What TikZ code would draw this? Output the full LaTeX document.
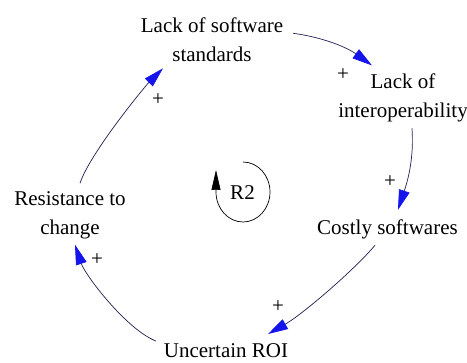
\documentclass[tikz,border=0pt]{standalone}
\usepackage{fontspec}
\setmainfont{Liberation Serif}
\usetikzlibrary{arrows.meta}
\definecolor{linec}{RGB}{30,30,80}
\definecolor{headc}{RGB}{20,20,235}
\begin{document}
\begin{tikzpicture}[x=1pt,y=-1pt,
  lbl/.style={font=\fontsize{21}{29}\selectfont, align=center, inner sep=2pt, outer sep=0pt},
  pol/.style={font=\fontsize{21}{29}\selectfont, inner sep=0pt},
  link/.style={draw=linec, line width=0.7pt, -{Triangle[length=20pt,width=11pt,color=headc]}},
  loopar/.style={draw=black, line width=0.7pt, -{Triangle[length=20pt,width=9pt]}}]
\useasboundingbox (0,0) rectangle (467,363);
\node[lbl] (n1) at (212,39.3) {Lack of software\\standards};
\node[lbl] (n2) at (403,97.6) {Lack of\\interoperability};
\node[lbl] (n3) at (387.5,229.2) {Costly softwares};
\node[lbl] (n4) at (226,350.8) {Uncertain ROI};
\node[lbl] (n5) at (70,215.6) {Resistance to\\change};
\node[lbl] (r2) at (242.5,193) {R2};
\node[pol] (p1) at (343,75) {+};
\node[pol] (p2) at (390,182) {+};
\node[pol] (p3) at (278,307) {+};
\node[pol] (p4) at (97,260) {+};
\node[pol] (p5) at (158,100) {+};
\draw[link] ([shift={(8,-6)}]n1.east) .. controls +(30,4) and +(-25,-18) .. ([shift={(-31,-6)}]n2.north);
\draw[link] ([shift={(9,4.5)}]n2.south) .. controls +(2,30) and +(10,-30) .. ([shift={(10.5,-7.7)}]n3.north);
\draw[link] ([shift={(-12.5,4.4)}]n3.south) .. controls +(-20,24) and +(35,-20) .. ([shift={(42,-7.7)}]n4.north);
\draw[link] ([shift={(-6,-0.7)}]n4.north west) .. controls +(-30,-12) and +(10,30) .. ([shift={(5,3.4)}]n5.south);
\draw[link] ([shift={(10,-6.7)}]n5.north) .. controls +(10,-30) and +(-18,18) .. ([shift={(-49,5)}]n1.south);
\draw[loopar] ([shift={(0.5,-31)}]r2.center) arc[start angle=-90, end angle=180, x radius=27, y radius=30] -- ++(0,-22);
\end{tikzpicture}
\end{document}
